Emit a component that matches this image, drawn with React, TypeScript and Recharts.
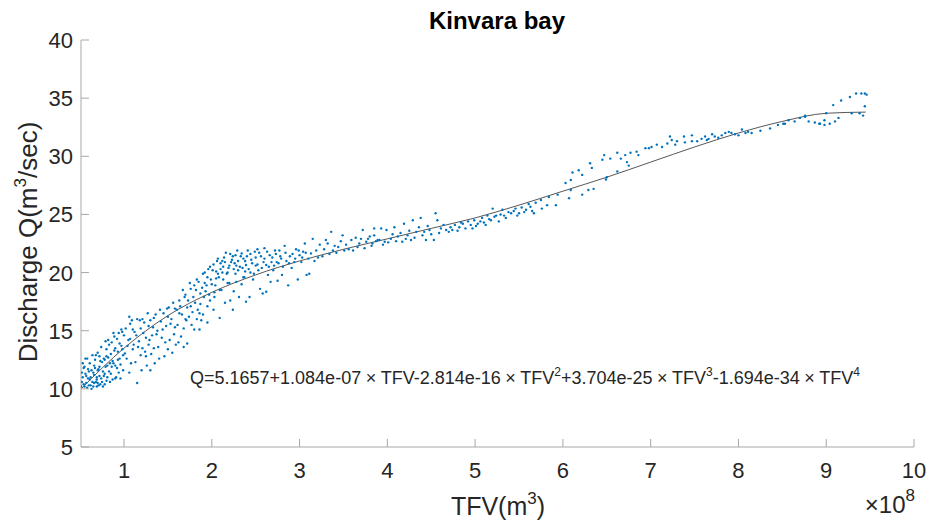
import React from "react";
import { ComposedChart, Scatter, Line, XAxis, YAxis } from "recharts";

// TFV in units of 1e8 m3, discharge Q in m3/sec
const lowFlow: [number, number][] = [
  [0.51, 10.2], [0.52, 10.6], [0.53, 11.0], [0.53, 12.2], [0.54, 10.4], [0.55, 11.9], [0.56, 11.3],
  [0.57, 10.5], [0.58, 12.6], [0.59, 10.9], [0.6, 11.5], [0.61, 10.8], [0.62, 10.3], [0.63, 11.6],
  [0.64, 12.9], [0.65, 10.2], [0.66, 11.2], [0.67, 12.5], [0.68, 10.6], [0.69, 11.0], [0.7, 10.5],
  [0.7, 13.1], [0.71, 11.7], [0.72, 11.9], [0.73, 10.4], [0.74, 13.6], [0.75, 12.3], [0.76, 10.2],
  [0.77, 11.1], [0.78, 11.3], [0.79, 14.1], [0.8, 12.8], [0.8, 10.7], [0.81, 12.0], [0.82, 14.2],
  [0.83, 11.5], [0.84, 10.6], [0.85, 13.0], [0.86, 11.9], [0.87, 12.4], [0.88, 14.8], [0.89, 13.3],
  [0.9, 10.9], [0.91, 11.0], [0.92, 14.3], [0.93, 12.5], [0.94, 11.4], [0.95, 13.9], [0.96, 12.1],
  [0.97, 15.1], [0.98, 13.4], [0.99, 11.6], [1.0, 14.6], [0.58, 10.1], [0.63, 10.0], [0.69, 10.2],
  [0.74, 10.9], [0.66, 12.0], [0.72, 12.8], [0.78, 12.5], [0.84, 12.2], [0.9, 12.0], [0.56, 12.6],
];

const denseLow: [number, number][] = [
  [0.52, 11.4], [0.54, 11.8], [0.55, 10.2], [0.57, 11.1], [0.59, 11.7], [0.6, 10.3], [0.61, 12.2],
  [0.62, 11.0], [0.64, 10.6], [0.65, 11.4], [0.66, 10.5], [0.67, 11.8], [0.68, 12.9], [0.69, 10.8],
  [0.7, 11.6], [0.71, 10.3], [0.72, 11.1], [0.73, 12.4], [0.75, 10.6], [0.76, 11.5], [0.77, 12.6],
  [0.78, 10.4], [0.79, 11.9], [0.8, 13.4], [0.81, 11.0], [0.82, 12.7], [0.83, 13.8], [0.85, 11.3],
  [0.86, 14.0], [0.87, 10.8], [0.88, 12.2], [0.89, 14.5], [0.9, 13.5], [0.92, 11.8], [0.93, 13.2],
  [0.94, 14.8], [0.95, 12.6], [0.96, 10.9], [0.97, 13.7], [0.98, 14.9], [0.99, 12.9], [1.02, 15.2],
  [1.04, 13.7], [1.06, 11.4], [1.07, 14.3], [1.09, 15.9], [1.1, 13.4], [1.12, 14.9], [1.13, 12.3],
  [1.15, 16.0], [1.17, 14.1], [1.19, 15.2], [1.21, 13.5], [1.23, 15.7], [1.25, 14.4], [1.26, 12.0],
  [1.28, 13.8], [1.3, 15.9], [1.32, 14.6], [1.34, 13.5], [1.36, 16.4], [1.38, 15.0], [1.4, 12.6],
  [1.43, 14.4], [1.45, 16.5], [1.48, 15.4], [1.5, 13.4], [1.51, 17.0], [1.54, 16.0], [1.57, 14.7],
  [1.58, 16.9], [1.61, 15.5], [1.63, 17.6], [1.66, 16.4], [1.68, 15.2], [1.7, 18.1], [1.72, 17.0],
  [1.74, 16.2], [1.76, 18.6], [1.78, 16.6], [1.8, 18.9], [1.81, 17.4], [1.83, 16.0], [1.85, 19.2],
  [1.87, 17.3], [1.89, 18.7], [1.9, 16.4], [1.92, 20.0], [1.93, 18.4], [1.95, 19.6], [1.97, 18.1],
  [1.98, 20.5], [2.0, 19.0], [2.02, 20.7], [2.03, 18.3], [2.05, 20.1], [2.07, 21.2], [2.08, 19.6],
  [2.1, 20.3], [2.12, 21.0], [2.13, 19.4], [2.15, 20.9], [2.16, 21.7], [2.18, 20.0], [2.2, 20.6],
  [2.21, 17.6], [2.23, 21.1], [2.25, 20.3], [2.27, 21.5], [2.28, 19.2], [2.3, 21.0], [2.32, 20.5],
  [2.34, 19.0], [2.36, 21.2], [2.38, 20.1], [2.4, 21.4], [2.42, 20.3], [2.44, 21.6], [2.46, 20.8],
  [2.48, 19.9], [2.5, 21.3], [2.52, 20.7], [2.54, 21.7], [2.57, 20.4], [2.6, 21.2], [2.63, 21.8],
  [2.65, 20.5], [2.67, 19.2], [2.69, 21.3], [2.71, 20.6], [2.73, 21.6], [2.76, 20.8], [2.78, 21.4],
  [2.8, 19.8], [2.84, 21.7], [2.88, 20.8], [2.92, 21.6], [2.95, 21.2], [2.99, 21.9], [3.03, 21.3],
  [3.07, 21.7],
];

const risingFlow: [number, number][] = [
  [1.01, 13.05], [1.03, 12.6], [1.05, 14.2], [1.06, 16.2], [1.07, 15.6], [1.08, 12.2], [1.1, 15.1],
  [1.11, 13.8], [1.15, 10.5], [1.14, 14.6], [1.16, 13.6], [1.18, 15.9], [1.19, 12.9], [1.2, 11.6],
  [1.21, 16.0], [1.22, 14.8], [1.24, 13.2], [1.25, 12.8], [1.27, 16.5], [1.28, 15.4], [1.29, 14.2],
  [1.3, 11.6], [1.31, 13.0], [1.33, 15.3], [1.34, 16.1], [1.35, 12.2], [1.37, 14.7], [1.39, 13.6],
  [1.41, 16.8], [1.42, 15.8], [1.44, 15.1], [1.46, 12.8], [1.47, 14.0], [1.49, 16.9], [1.5, 16.2],
  [1.52, 14.2], [1.53, 15.6], [1.55, 13.1], [1.56, 17.4], [1.58, 15.3], [1.59, 13.8], [1.6, 16.8],
  [1.62, 14.0], [1.63, 16.5], [1.64, 17.1], [1.65, 14.5], [1.67, 18.5], [1.68, 13.6], [1.69, 17.9],
  [1.7, 16.0], [1.71, 15.9], [1.72, 13.9], [1.73, 17.6], [1.75, 19.1], [1.76, 17.1], [1.77, 15.5],
  [1.79, 17.9], [1.8, 15.1], [1.82, 18.5], [1.83, 19.4], [1.84, 16.8], [1.86, 16.5], [1.86, 15.1],
  [1.87, 18.2], [1.88, 15.9], [1.9, 19.9], [1.91, 17.9], [1.92, 19.1], [1.94, 18.9], [1.95, 17.1],
  [1.95, 15.7], [1.96, 20.3], [1.98, 17.6], [1.99, 19.4], [2.01, 20.2], [2.02, 16.8], [2.03, 17.9],
  [2.05, 19.5], [2.06, 21.0], [2.07, 19.9], [2.09, 18.5], [2.09, 16.1], [2.1, 20.8], [2.11, 18.5],
  [2.13, 20.5], [2.14, 21.3], [2.15, 17.4], [2.17, 19.9], [2.18, 19.1], [2.2, 19.1], [2.21, 21.6],
  [2.22, 20.9], [2.24, 21.4], [2.24, 16.8], [2.25, 18.4], [2.26, 20.8], [2.27, 19.9], [2.29, 21.9],
  [2.3, 20.2], [2.31, 17.9], [2.33, 21.4], [2.34, 21.65], [2.35, 20.4], [2.36, 19.6], [2.37, 19.6],
  [2.38, 21.0], [2.39, 20.65], [2.39, 17.5], [2.12, 20.0], [2.19, 20.4], [2.28, 20.6], [2.04, 18.9],
];

const midFlow: [number, number][] = [
  [2.41, 21.9], [2.43, 17.9], [2.44, 20.0], [2.45, 21.1], [2.47, 19.4], [2.49, 21.8], [2.5, 20.6],
  [2.52, 22.0], [2.53, 20.2], [2.55, 18.6], [2.56, 21.4], [2.58, 18.2], [2.59, 20.9], [2.6, 22.1],
  [2.62, 18.35], [2.62, 20.65], [2.64, 19.8], [2.66, 21.5], [2.68, 20.9], [2.7, 20.2], [2.72, 21.9],
  [2.74, 20.9], [2.75, 19.3], [2.77, 21.9], [2.79, 21.2], [2.81, 20.5], [2.83, 22.3], [2.85, 21.0],
  [2.87, 18.9], [2.89, 21.4], [2.91, 20.4], [2.94, 20.9], [2.96, 22.0], [2.98, 19.4], [3.0, 21.5],
  [3.02, 20.9], [3.04, 21.8], [3.06, 22.5], [3.08, 19.8], [3.1, 21.2], [3.11, 19.9], [3.13, 21.65],
  [3.15, 22.9], [3.17, 21.0], [3.19, 21.9], [3.21, 21.3], [3.23, 22.4], [3.26, 21.4], [3.28, 22.0],
  [3.3, 22.8], [3.32, 22.5], [3.34, 21.6], [3.36, 23.5], [3.38, 21.9], [3.4, 22.3], [3.42, 21.7],
  [3.44, 22.2], [3.47, 22.7], [3.49, 23.2], [3.51, 21.9], [3.53, 22.4], [3.56, 22.0], [3.59, 22.8],
  [3.61, 21.9], [3.64, 23.0], [3.66, 22.2], [3.68, 22.5], [3.7, 22.9], [3.72, 23.66], [3.74, 22.1],
  [3.76, 22.65], [3.78, 22.9], [3.8, 23.1], [3.82, 22.3], [3.83, 22.5], [3.85, 23.2], [3.85, 23.8],
  [3.87, 22.7], [3.89, 22.8], [3.91, 22.8], [3.93, 23.8], [3.95, 22.4], [3.97, 22.65], [3.99, 23.66],
];

const upperFlow: [number, number][] = [
  [4.01, 22.6], [4.04, 22.9], [4.06, 23.3], [4.08, 23.9], [4.1, 22.7], [4.12, 23.1], [4.15, 23.4],
  [4.17, 22.65], [4.19, 24.2], [4.21, 22.9], [4.23, 23.2], [4.25, 23.6], [4.27, 22.8], [4.29, 24.5],
  [4.31, 23.0], [4.33, 23.5], [4.36, 23.9], [4.38, 24.7], [4.4, 23.2], [4.42, 23.5], [4.44, 22.8],
  [4.46, 24.0], [4.48, 23.66], [4.5, 23.3], [4.53, 22.8], [4.55, 25.1], [4.57, 24.5], [4.59, 23.4],
  [4.61, 23.8], [4.64, 24.1], [4.67, 23.66], [4.7, 23.5], [4.72, 23.9], [4.74, 23.66], [4.77, 24.1],
  [4.8, 23.6], [4.82, 23.9], [4.84, 24.3], [4.86, 24.2], [4.89, 23.8], [4.92, 24.4], [4.95, 24.1],
  [4.97, 23.8], [4.99, 24.5], [5.01, 24.0], [5.03, 24.2], [5.06, 24.4], [5.08, 24.7], [5.1, 24.3],
  [5.12, 24.1], [5.14, 24.9], [5.16, 24.6], [5.18, 24.5], [5.2, 25.5], [5.22, 24.8], [5.24, 24.9],
  [5.27, 24.4], [5.29, 25.0], [5.31, 25.4], [5.33, 24.9], [5.35, 24.7], [5.38, 25.2], [5.41, 25.1],
  [5.44, 25.3], [5.46, 25.5], [5.48, 24.9], [5.5, 25.1], [5.53, 25.6], [5.56, 25.2], [5.58, 25.4],
  [5.61, 25.9], [5.63, 25.66], [5.65, 25.3], [5.67, 25.1], [5.69, 26.0],
];

const highFlow: [number, number][] = [
  [5.75, 26.24], [5.76, 25.5], [5.82, 25.8], [5.92, 25.8], [5.84, 26.5], [5.94, 26.7], [6.03, 27.7],
  [6.09, 27.96], [6.11, 28.6], [6.18, 28.8], [6.22, 28.4], [6.09, 27.1], [6.07, 26.4], [6.22, 26.7],
  [6.29, 27.1], [6.35, 27.2], [6.31, 29.4], [6.33, 29.0], [6.45, 29.7], [6.47, 30.1], [6.49, 28.0],
  [6.5, 28.2], [6.54, 29.8], [6.62, 30.3], [6.62, 28.7], [6.66, 29.8], [6.71, 30.1], [6.73, 29.5],
  [6.77, 30.3], [6.75, 29.2], [6.84, 30.4], [6.86, 30.1], [6.94, 30.7], [6.98, 30.7], [7.01, 30.8],
  [7.07, 31.0], [7.13, 30.8], [7.19, 31.1], [7.22, 31.7], [7.24, 31.4], [7.28, 31.0], [7.3, 31.3],
  [7.38, 31.7], [7.39, 31.2], [7.47, 31.8], [7.47, 31.3], [7.53, 31.3], [7.58, 31.5], [7.62, 31.7],
  [7.64, 31.4],
];

const peakFlow: [number, number][] = [
  [7.66, 31.5], [7.7, 31.9], [7.73, 31.7], [7.77, 31.6], [7.81, 31.8], [7.85, 32.0], [7.89, 32.1],
  [7.92, 32.0], [7.96, 31.9], [8.0, 31.8], [8.04, 32.3], [8.08, 32.0], [8.11, 32.1], [8.15, 32.0],
  [8.25, 32.2], [8.36, 32.4], [8.45, 32.7], [8.51, 32.8], [8.53, 32.8], [8.57, 33.1], [8.64, 33.0],
  [8.7, 33.3], [8.76, 33.5], [8.76, 33.4], [8.8, 33.0], [8.87, 32.9], [8.92, 32.8], [8.93, 32.8],
  [8.98, 32.7], [8.98, 33.1], [9.0, 33.7], [9.04, 32.8], [9.1, 33.0], [9.14, 33.3], [9.08, 34.4],
  [9.17, 34.8], [9.27, 35.1], [9.29, 33.7], [9.34, 35.4], [9.38, 33.7], [9.4, 35.4], [9.42, 33.5],
  [9.44, 34.3], [9.46, 35.3], [9.44, 35.4],
];

// fitted 4th order polynomial
const fitTfv = [0.51, 1, 1.5, 2, 2.5, 3, 3.5, 4, 4.5, 5, 5.5, 6, 6.5, 7, 7.5, 8, 8.5, 9, 9.45];
const fitQ = [10.0, 13.5, 16.3, 18.3, 19.8, 21.0, 22.0, 22.9, 23.8, 24.7, 25.8, 27.0, 28.2, 29.5, 30.8, 32.0, 33.0, 33.7, 33.8];

const xTicks = [1, 2, 3, 4, 5, 6, 7, 8, 9, 10];
const yTicks = [5, 10, 15, 20, 25, 30, 35, 40];

const points = [
  ...lowFlow,
  ...denseLow,
  ...risingFlow,
  ...midFlow,
  ...upperFlow,
  ...highFlow,
  ...peakFlow,
].map(([x, y]) => ({ x, y }));
const fit = fitTfv.map((x, i) => ({ x, y: fitQ[i] }));

const FONT = '"Liberation Sans", Arial, Helvetica, sans-serif';
const AXIS = "#a8a8a8";
const INK = "#262626";

const XTick = (props: any) => {
  const { x, y, payload } = props;
  return (
    <g>
      <line x1={x} y1={y} x2={x} y2={y - 8} stroke={AXIS} />
      <text x={x} y={y + 31} textAnchor="middle" fontSize={22} fill={INK} fontFamily={FONT}>
        {payload.value}
      </text>
    </g>
  );
};

const YTick = (props: any) => {
  const { x, y, payload } = props;
  return (
    <g>
      <line x1={x} y1={y} x2={x + 8} y2={y} stroke={AXIS} />
      <text x={x - 8} y={y + 8} textAnchor="end" fontSize={22} fill={INK} fontFamily={FONT}>
        {payload.value}
      </text>
    </g>
  );
};

const Dot = (props: any) => <circle cx={props.cx} cy={props.cy} r={1.2} fill="#0072BD" />;

export default function App() {
  return (
    <div style={{ position: "absolute", left: 0, top: 0, width: 938, height: 522, background: "#fff" }}>
      <ComposedChart width={938} height={522} margin={{ top: 40, right: 24, bottom: 45, left: 21 }}>
        <XAxis
          type="number"
          dataKey="x"
          domain={[0.51, 10]}
          ticks={xTicks}
          allowDataOverflow
          height={30}
          tickSize={0}
          tickMargin={0}
          tickLine={false}
          axisLine={{ stroke: AXIS }}
          tick={<XTick />}
        />
        <YAxis
          type="number"
          dataKey="y"
          domain={[5, 40]}
          ticks={yTicks}
          width={60}
          tickSize={0}
          tickMargin={0}
          tickLine={false}
          axisLine={{ stroke: AXIS }}
          tick={<YTick />}
        />
        <Scatter data={points} shape={<Dot />} isAnimationActive={false} />
        <Line
          data={fit}
          dataKey="y"
          type="monotone"
          stroke="#444"
          strokeWidth={0.9}
          dot={false}
          isAnimationActive={false}
        />
      </ComposedChart>
      <svg
        width={938}
        height={522}
        style={{ position: "absolute", left: 0, top: 0, pointerEvents: "none" }}
        fontFamily={FONT}
      >
        <text x={497} y={29} textAnchor="middle" fontSize={24} fontWeight="bold" fill="#000">
          Kinvara bay
        </text>
        <text x={190} y={384} fontSize={18} fill={INK}>
          Q=5.1657+1.084e-07{"\u2005×\u2005"}TFV-2.814e-16{"\u2005×\u2005"}TFV
          <tspan dy={-8} fontSize={12}>2</tspan>
          <tspan dy={8}>+3.704e-25{"\u2005×\u2005"}TFV</tspan>
          <tspan dy={-8} fontSize={12}>3</tspan>
          <tspan dy={8}>-1.694e-34{"\u2005×\u2005"}TFV</tspan>
          <tspan dy={-8} fontSize={12}>4</tspan>
        </text>
        <text x={498} y={515} textAnchor="middle" fontSize={25} fill={INK}>
          TFV(m<tspan dy={-11} fontSize={17}>3</tspan>
          <tspan dy={11}>)</tspan>
        </text>
        <text x={915} y={513} textAnchor="end" fontSize={24} fill={INK}>
          {"×10"}
          <tspan dy={-12} fontSize={17}>8</tspan>
        </text>
        <text
          x={37}
          y={242}
          transform="rotate(-90, 37, 242)"
          textAnchor="middle"
          fontSize={26}
          fill={INK}
        >
          Discharge Q(m<tspan dy={-11} fontSize={17}>3</tspan>
          <tspan dy={11}>/sec)</tspan>
        </text>
      </svg>
    </div>
  );
}
